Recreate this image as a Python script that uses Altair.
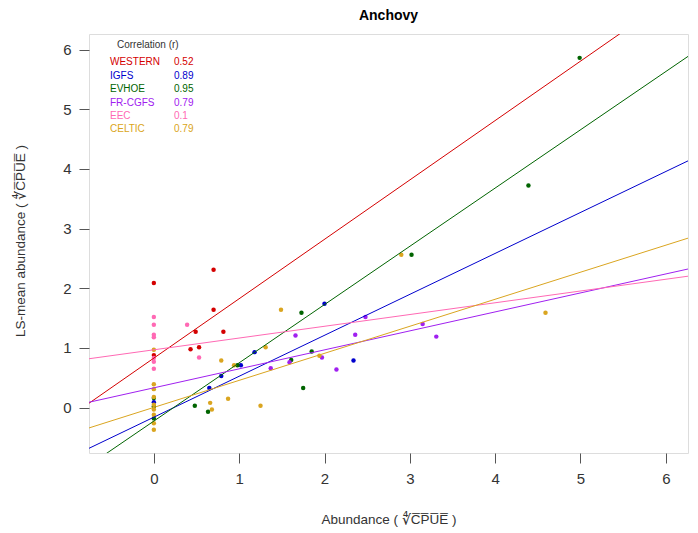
import altair as alt
import pandas as pd

# Surveys, colours and correlation coefficients
surveys = ["WESTERN", "IGFS", "EVHOE", "FR-CGFS", "EEC", "CELTIC"]
colors = ["#d40000", "#0000cd", "#006400", "#a020f0", "#ff69b4", "#daa520"]
correlations = ["0.52", "0.89", "0.95", "0.79", "0.1", "0.79"]

# Fitted lines (intercept, slope) per survey
intercepts = [0.83, -0.16, -0.225, 0.332, 0.969, 0.004]
slopes = [0.995, 0.686, 0.976, 0.318, 0.197, 0.453]

# Observations: abundance (x) vs LS-mean abundance (y), 4th-root CPUE
western_x = [0, 0, 0.70, 0.70, 0.49, 0.815, 0.43, 0.53]
western_y = [2.09, 0.88, 2.31, 1.64, 1.27, 1.27, 0.98, 1.01]

igfs_x = [0, 0.65, 0.79, 1.02, 1.18, 2.00, 2.34]
igfs_y = [0.09, 0.33, 0.53, 0.71, 0.93, 1.74, 0.79]

evhoe_x = [0, 0, 0, 0.48, 0.635, 0.98, 1.61, 1.73, 1.75, 1.85, 3.02, 4.39, 4.99]
evhoe_y = [0.16, 0.02, -0.18, 0.03, -0.07, 0.71, 0.80, 1.59, 0.33, 0.94, 2.56, 3.72, 5.86]

frcgfs_x = [1.37, 1.59, 1.66, 1.97, 2.14, 2.36, 2.48, 3.15, 3.31]
frcgfs_y = [0.66, 0.76, 1.21, 0.84, 0.64, 1.22, 1.52, 1.40, 1.19]

eec_x = [0, 0, 0, 0, 0, 0, 0, 0.39, 0.53]
eec_y = [1.52, 1.39, 1.22, 1.18, 0.83, 0.77, 0.65, 1.39, 0.84]

celtic_x = [0, 0, 0, 0, 0, 0, 0, 0, 0, 0.66, 0.68, 0.79, 0.87, 0.94, 1.25, 1.31, 1.49, 1.94, 2.90, 4.59]
celtic_y = [0.97, 0.39, 0.31, 0.18, 0.05, -0.03, -0.12, -0.26, -0.37, 0.08, -0.03, 0.79, 0.15, 0.71, 0.03, 1.01, 1.64, 0.87, 2.56, 1.59]

tick_values = [0, 1, 2, 3, 4, 5, 6]
lims = [-0.76, 6.26]

series_x = [western_x, igfs_x, evhoe_x, frcgfs_x, eec_x, celtic_x]
series_y = [western_y, igfs_y, evhoe_y, frcgfs_y, eec_y, celtic_y]

rows = []
for name, xs, ys in zip(surveys, series_x, series_y):
    for xv, yv in zip(xs, ys):
        rows.append({"survey": name, "x": xv, "y": yv})
points_df = pd.DataFrame(rows)

line_rows = []
for name, a, b in zip(surveys, intercepts, slopes):
    for xv in lims:
        line_rows.append({"survey": name, "x": xv, "y": a + b * xv})
lines_df = pd.DataFrame(line_rows)

legend_df = pd.DataFrame({
    "survey": surveys,
    "r": correlations,
    "row": list(range(len(surveys))),
})

font = "Liberation Sans"
W, H = 599, 419

xscale = alt.Scale(domain=lims, nice=False, zero=False)
yscale = alt.Scale(domain=lims, nice=False, zero=False)
cscale = alt.Scale(domain=surveys, range=colors)

root = "\u221c" + "".join(c + "\u0305" for c in "CPUE")

x_axis = alt.Axis(
    values=tick_values, format="d", grid=False, domain=False,
    tickSize=10, tickColor="#555", labelFontSize=15, labelColor="#333",
    labelPadding=8, title=f"Abundance ( {root} )", titleFontSize=13.5,
    titleFontWeight="normal", titleColor="#333",
    titleX=W / 2, titleY=66, titleBaseline="middle", titleAlign="center",
)
y_axis = alt.Axis(
    values=tick_values, format="d", grid=False, domain=False,
    tickSize=10, tickColor="#555", labelFontSize=15, labelColor="#333",
    labelPadding=8, title=f"LS-mean abundance ( {root} )", titleFontSize=13.5,
    titleFontWeight="normal", titleColor="#333",
    titleX=-69, titleY=H / 2 - 3, titleBaseline="middle", titleAlign="center",
    titleAngle=-90,
)

base_x = alt.X("x:Q", scale=xscale, axis=x_axis)
base_y = alt.Y("y:Q", scale=yscale, axis=y_axis)

points = alt.Chart(points_df).mark_circle(size=20, opacity=1).encode(
    x=base_x, y=base_y,
    color=alt.Color("survey:N", scale=cscale, legend=None),
)

lines = alt.Chart(lines_df).mark_line(strokeWidth=1, clip=True).encode(
    x=alt.X("x:Q", scale=xscale),
    y=alt.Y("y:Q", scale=yscale),
    color=alt.Color("survey:N", scale=cscale, legend=None),
    detail="survey:N",
)

legend_head = alt.Chart(pd.DataFrame({"t": ["Correlation (r)"]})).mark_text(
    align="left", baseline="middle", fontSize=10, font=font, color="#333"
).encode(x=alt.value(28), y=alt.value(11), text="t:N")

legend_names = alt.Chart(legend_df).transform_calculate(
    py="28.3 + 13.4 * datum.row"
).mark_text(align="left", baseline="middle", fontSize=10, font=font).encode(
    x=alt.value(21),
    y=alt.Y("py:Q", scale=None),
    text="survey:N",
    color=alt.Color("survey:N", scale=cscale, legend=None),
)

legend_vals = alt.Chart(legend_df).transform_calculate(
    py="28.3 + 13.4 * datum.row"
).mark_text(align="left", baseline="middle", fontSize=10, font=font).encode(
    x=alt.value(85),
    y=alt.Y("py:Q", scale=None),
    text="r:N",
    color=alt.Color("survey:N", scale=cscale, legend=None),
)

chart = alt.layer(points, lines, legend_head, legend_names, legend_vals).properties(
    width=W, height=H,
    title=alt.TitleParams("Anchovy", fontSize=14, fontWeight="bold", anchor="middle",
                          font=font, color="#000", offset=11),
    autosize=alt.AutoSizeParams(type="none"),
    padding={"left": 89, "top": 34, "right": 10, "bottom": 80},
).configure_view(stroke="#333", strokeWidth=1).configure(font=font).configure_axis(
    labelFont=font, titleFont=font
)

chart.save("out.html", embed_options={"renderer": "svg", "actions": False})
